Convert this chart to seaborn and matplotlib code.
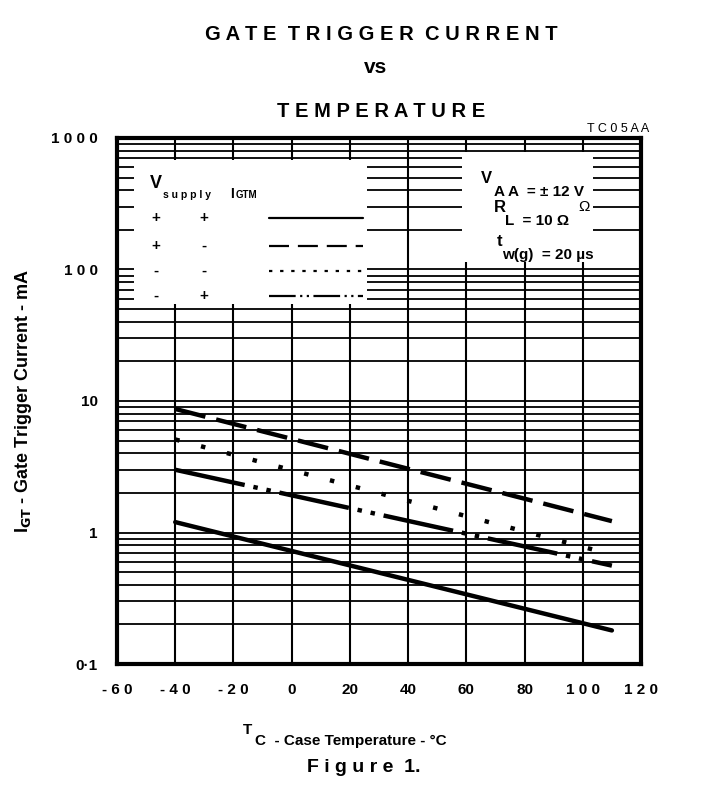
import numpy as np
import pandas as pd
import seaborn as sns
import matplotlib.pyplot as plt
from matplotlib.patches import Rectangle

sns.set_style("white")
plt.rcParams['font.family'] = ['Liberation Sans', 'DejaVu Sans']
plt.rcParams['font.weight'] = 'bold'
plt.rcParams['text.color'] = 'black'
plt.rcParams['axes.labelcolor'] = 'black'
plt.rcParams['xtick.color'] = 'black'
plt.rcParams['ytick.color'] = 'black'

# end points (straight lines on log scale)
temps = [-40, 110]
igt_pp = [1.2, 0.18]     # + +  solid
igt_pm = [8.7, 1.22]     # + -  long dash
igt_mm = [5.1, 0.68]     # - -  dotted
igt_mp = [3.0, 0.56]     # - +  dash-dot

xticks = [-60, -40, -20, 0, 20, 40, 60, 80, 100, 120]
xlabels = ["- 6 0", "- 4 0", "- 2 0", "0", "20", "40", "60", "80", "1 0 0", "1 2 0"]
yticks = [0.1, 1, 10, 100, 1000]
ylabels = ["0·1", "1", "10", "1 0 0", "1 0 0 0"]

fig = plt.figure(figsize=(7.13, 7.93), dpi=100)
ax = fig.add_axes([117/713, 1-664/793, 524/713, 526/793])
ax.set_yscale("log")
ax.set_xlim(-60, 120)
ax.set_ylim(0.1, 1000)

# grid
for d in [0.1, 1, 10, 100]:
    for m in range(1, 10):
        ax.axhline(d*m, color="black", lw=1.3, zorder=1)
ax.axhline(1000, color="black", lw=1.3)
for x in range(-40, 120, 20):
    ax.axvline(x, color="black", lw=1.5, zorder=1)

# white legend boxes
ax.add_patch(Rectangle((-54, 55), 80, 625, facecolor="white", edgecolor="none", zorder=2))
ax.add_patch(Rectangle((58.5, 114), 45, 668, facecolor="white", edgecolor="none", zorder=2))

styles = [(igt_pp, "-"), (igt_pm, (0, (7, 2.5))), (igt_mm, (0, (1, 5))), (igt_mp, (0, (16, 2, 1, 2, 1, 2)))]
for vals, ls in styles:
    df = pd.DataFrame({"T": temps, "I": vals})
    sns.lineplot(data=df, x="T", y="I", ax=ax, color="black", lw=3.2, linestyle=ls, zorder=3)

# legend inside
ax.text(0.063, 0.905, "V", fontsize=13, transform=ax.transAxes, zorder=4)
ax.text(0.088, 0.885, "s u p p l y", fontsize=7.5, transform=ax.transAxes, zorder=4)
ax.text(0.215, 0.885, "I", fontsize=10, transform=ax.transAxes, zorder=4)
ax.text(0.226, 0.885, "GTM", fontsize=7, transform=ax.transAxes, zorder=4)
rows = [("+", "+"), ("+", "-"), ("-", "-"), ("-", "+")]
ys = [0.848, 0.795, 0.747, 0.70]
legend_ls = ["-", (0, (9, 4)), (0, (1.5, 3.5)), (0, (12, 2, 1, 2, 1, 2))]
for (a, b), y, ls in zip(rows, ys, legend_ls):
    ax.text(0.075, y, a, ha="center", va="center", fontsize=11, transform=ax.transAxes, zorder=4)
    ax.text(0.165, y, b, ha="center", va="center", fontsize=11, transform=ax.transAxes, zorder=4)
    ax.plot([0.29, 0.47], [y, y], transform=ax.transAxes, color="black",
            lw=1.6, linestyle=ls, zorder=4)

ax.text(0.695, 0.915, "V", fontsize=12, transform=ax.transAxes, zorder=4)
ax.text(0.72, 0.89, "A A  = ± 12 V", fontsize=11, transform=ax.transAxes, zorder=4)
ax.text(0.88, 0.862, "Ω", fontsize=11, fontweight="normal", transform=ax.transAxes, zorder=4)
ax.text(0.72, 0.86, "R", fontsize=12, transform=ax.transAxes, zorder=4)
ax.text(0.74, 0.835, "L  = 10 Ω", fontsize=11, transform=ax.transAxes, zorder=4)
ax.text(0.725, 0.795, "t", fontsize=12, transform=ax.transAxes, zorder=4)
ax.text(0.735, 0.77, "w(g)  = 20 µs", fontsize=11, transform=ax.transAxes, zorder=4)

for s in ax.spines.values():
    s.set_linewidth(3)
    s.set_color("black")
    s.set_zorder(5)

ax.set_xticks(xticks)
ax.set_xticklabels(xlabels, fontsize=11, fontweight="bold")
ax.set_yticks(yticks)
ax.set_yticklabels(ylabels, fontsize=11, fontweight="bold")
ax.minorticks_off()
ax.tick_params(length=0, pad=14)
ax.set_xlabel("")
ax.set_ylabel(r"I$_{\mathbf{GT}}$ - Gate Trigger Current - mA", fontsize=13, fontweight="bold", labelpad=12)

fig.text(0.535, 0.95, "G A T E  T R I G G E R  C U R R E N T", ha="center", fontsize=14.5, fontweight="bold")
fig.text(0.527, 0.908, "vs", ha="center", fontsize=15, fontweight="bold")
fig.text(0.535, 0.853, "T E M P E R A T U R E", ha="center", fontsize=14.5, fontweight="bold")
fig.text(0.91, 0.834, "T C 0 5 A A", ha="right", fontsize=9, fontweight="normal")
fig.text(0.34, 0.075, "T", fontsize=11, fontweight="bold")
fig.text(0.358, 0.06, "C  - Case Temperature - °C", fontsize=11, fontweight="bold")
fig.text(0.51, 0.027, "F i g u r e  1.", ha="center", fontsize=14, fontweight="bold")

fig.savefig("out.png", dpi=100)
